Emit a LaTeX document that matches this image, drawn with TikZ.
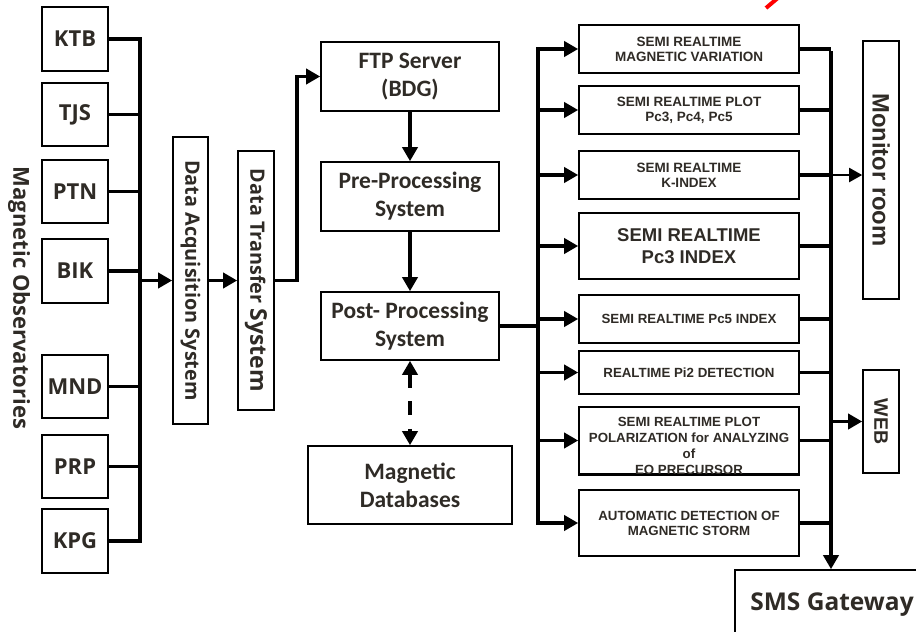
\documentclass[tikz,border=0pt]{standalone}
\usepackage{fontspec}
\setmainfont{Open Sans}[BoldFont={Open Sans Bold}]
\newfontfamily\carl{Carlito}[BoldFont={Carlito Bold}]
\newfontfamily\lsans{Liberation Sans}[BoldFont={Liberation Sans Bold}]
\usetikzlibrary{arrows.meta}
\definecolor{txt}{HTML}{2F2B26}
\begin{document}
\begin{tikzpicture}[x=1pt,y=-1pt,
  box/.style={draw=black, line width=1.6pt, fill=white, inner sep=0pt, text=txt, align=center},
  obs/.style={box, minimum width=66pt, minimum height=63pt, font=\bfseries\fontsize{22}{26}\selectfont},
  mid/.style={box, minimum width=178pt, minimum height=69pt, font=\carl\bfseries\fontsize{23.5}{28}\selectfont},
  rbox/.style={box, minimum width=220pt, font=\lsans\bfseries},
  small/.style={font=\lsans\bfseries\fontsize{13.5}{15}\selectfont},
  med/.style={font=\lsans\bfseries\fontsize{13.3}{15}\selectfont},
  conn/.style={line width=3.5pt},
  bus/.style={line width=4pt, line cap=rect},
  arrtip/.style={-{Triangle[length=14pt,width=15pt]}},
  arr/.style={line width=3.5pt, arrtip},
]
\clip (0,0) rectangle (916,632);
\fill[white] (0,0) rectangle (916,632);

% left observatories
\node[font=\bfseries\fontsize{22}{26}\selectfont, text=txt, inner sep=0pt] (mo) at (19,298) {\rotatebox{-90}{Magnetic Observatories}};
\node[obs, minimum height=64pt] (ktb) at (75,39) {KTB};
\node[obs] (tjs) at (75,114.5) {TJS};
\node[obs] (ptn) at (75,191.5) {PTN};
\node[obs, minimum height=64pt] (bik) at (75,271) {BIK};
\node[obs] (mnd) at (75,386.5) {MND};
\node[obs] (prp) at (75,466.5) {PRP};
\node[obs, minimum height=64pt] (kpg) at (75,541) {KPG};

\coordinate (bl) at (140,0);
\coordinate (j1) at (297,0);
\coordinate (br) at (538,0);
\coordinate (rb) at (831,0);

\node[box, minimum width=35pt, minimum height=287pt, font=\bfseries\fontsize{19.8}{22}\selectfont] (das) at (190.5,280.5) {\rotatebox{-90}{Data Acquisition System}};
\node[box, minimum width=36pt, minimum height=259pt, font=\bfseries\fontsize{19.8}{22}\selectfont] (dts) at (256,280.5) {\rotatebox{-90}{Data Transfer {\fontsize{23}{26}\selectfont System}}};

% left bus
\draw[bus] (bl |- ktb.east) -- (bl |- kpg.east);
\foreach \n in {ktb,tjs,ptn,bik,mnd,prp,kpg} \draw[conn] (\n.east) -- (\n.east -| bl);
\draw[arr] (bl |- das.west) -- (das.west);
\draw[arr] (das.east) -- (dts.west);

% middle column
\node[mid] (ftp) at (410,76.5) {FTP Server\\(BDG)};
\node[mid] (pre) at (410,196.5) {Pre-Processing\\System};
\node[mid, minimum height=68pt] (post) at (410,326) {Post- Processing\\System};
\node[mid, minimum width=204pt, minimum height=78pt] (mdb) at (410,485) {Magnetic\\Databases};

\draw[arr] (dts.east) -- (dts.east -| j1) |- (ftp.west);
\draw[arr] (ftp.south) -- (pre.north);
\draw[arr] (pre.south) -- (post.north);
\draw[line width=4pt, dash pattern=on 14pt off 13.5pt, {Triangle[length=14pt,width=15pt]}-{Triangle[length=14pt,width=15pt]}] (post.south) -- (mdb.north);

% right boxes
\node[rbox, minimum height=48pt, small] (b1) at (689,49) {SEMI REALTIME\\MAGNETIC VARIATION};
\node[rbox, minimum height=48pt, small] (b2) at (689,110) {SEMI REALTIME PLOT\\Pc3, Pc4, Pc5};
\node[rbox, minimum height=48pt, small] (b3) at (689,175) {SEMI REALTIME\\K-INDEX};
\node[rbox, minimum height=66pt, font=\lsans\bfseries\fontsize{18.5}{22}\selectfont] (b4) at (689,246) {SEMI REALTIME\\Pc3 INDEX};
\node[rbox, minimum height=48pt, med] (b5) at (689,319) {SEMI REALTIME Pc5 INDEX};
\node[rbox, minimum height=43pt, med] (b6) at (689,372.5) {REALTIME Pi2 DETECTION};
\node[rbox, minimum height=67pt] (b7) at (689,440.5) {};
\begin{scope}
\clip (b7.south west) rectangle (b7.north east);
\node[font=\lsans\bfseries\fontsize{13.3}{16}\selectfont, text=txt, align=center, inner sep=0pt, anchor=base] (b7t) at (689,474.5) {SEMI REALTIME PLOT\\POLARIZATION for ANALYZING\\of\\EQ PRECURSOR};
\end{scope}
\draw[line width=1.6pt] (b7.south west) -- (b7.south east);
\node[rbox, minimum height=66pt, med] (b8) at (689,523) {AUTOMATIC DETECTION OF\\MAGNETIC STORM};

\draw[conn] (post.east) -- (post.east -| br);
\draw[bus] (br |- b1.west) -- (br |- b8.west);
\foreach \n in {b1,b2,b3,b4,b5,b6,b7,b8} \draw[arr] (br |- \n.west) -- (\n.west);

% outputs
\node[box, minimum width=36pt, minimum height=258pt, font=\lsans\bfseries\fontsize{23.8}{26}\selectfont] (mon) at (881,170) {\rotatebox{-90}{Monitor room}};
\node[box, minimum width=36pt, minimum height=103pt, font=\lsans\bfseries\fontsize{19.5}{22}\selectfont] (web) at (881,421.5) {\rotatebox{-90}{WEB}};
\node[box, minimum width=194pt, minimum height=70pt, font=\bfseries\fontsize{24.5}{30}\selectfont] (sms) at (832,605) {SMS Gateway};

\foreach \n in {b1,b2,b3,b4,b5,b6,b7,b8} \draw[conn] (\n.east) -- (\n.east -| rb);
\draw[line width=4pt, arrtip] ([yshift=-2pt]rb |- b1.east) -- (rb |- sms.north);
\draw[line width=2pt, -{Triangle[length=13pt,width=14pt]}] ([xshift=-8pt]rb |- b3.east) -- (mon.west |- b3.east);
\draw[arr] (rb |- web.west) -- (web.west);

% stray red mark
\coordinate (r1) at (766,8);
\coordinate (r2) at (779,-3);
\draw[red, line width=4pt] (r1) -- (r2);
\end{tikzpicture}
\end{document}
